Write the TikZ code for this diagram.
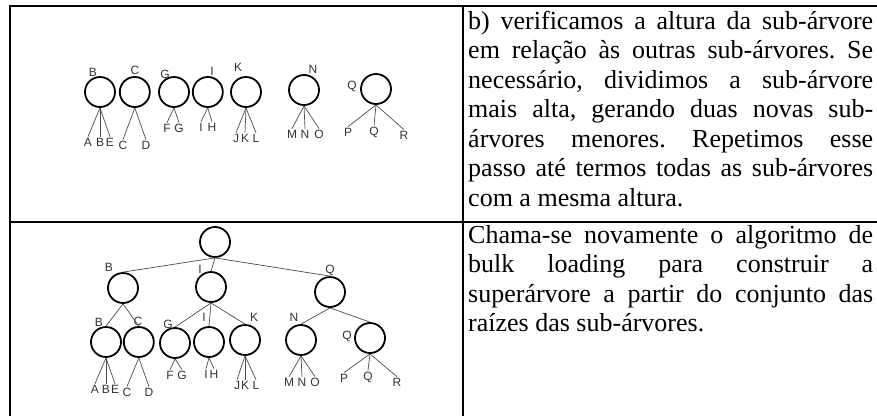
\documentclass[tikz,border=0pt]{standalone}
\usepackage{fontspec}
\setmainfont{Liberation Serif}
\setsansfont{Liberation Sans}
\usetikzlibrary{positioning}
\frenchspacing

\begin{document}
\begin{tikzpicture}[
            x=1pt, y=-1pt,
            bnode/.style={circle, draw=black, line width=1.8pt, minimum size=30pt, inner sep=0pt},
            lbl/.style={font=\sffamily\fontsize{12}{14}\selectfont, text=black!80, inner sep=1pt},
            edge/.style={draw=black!70, line width=0.7pt},
            grid/.style={draw=black, line width=2.4pt},
            txt/.style={font=\fontsize{26}{29.5}\selectfont, inner sep=0pt, anchor=base west},
        ]
            \useasboundingbox (0,0) rectangle (877,416);

            % table
            \coordinate (tl) at (10,6);
            \coordinate (tr) at (877,6);
            \coordinate (ml) at (10,222);
            \coordinate (mr) at (877,222);
            \coordinate (bl) at (10,416);
            \coordinate (vt) at (463,6);
            \coordinate (vb) at (463,416);
            \draw[grid] (tr) -- (tl) -- (bl);
            \draw[grid] (ml) -- (mr);
            \draw[grid] (vt) -- (vb);

            % sub-trees, top row
            \node [bnode] (sB) at (100,92) {};
            \node [bnode] (sC) [right= 3pt of sB] {};
            \node [bnode] (sG) at (174,92) {};
            \node [bnode] (sI) [right= 2pt of sG] {};
            \node [bnode] (sK) at (246,92) {};
            \node [bnode] (sN) at (304,90) {};
            \node [bnode] (sQ) at (376,89) {};

            \node [lbl] at (93,72)  {B};
            \node [lbl] at (135,70) {C};
            \node [lbl] at (165,74) {G};
            \node [lbl] at (212,71) {I};
            \node [lbl] at (238,67) {K};
            \node [lbl] at (313,69) {N};
            \node [lbl] at (352,86) {Q};

            \node [lbl] (sBa) at (88,142)  {A};
            \node [lbl] (sBb) at (100,142) {B};
            \node [lbl] (sBe) at (110,142) {E};
            \node [lbl] (sCc) at (123,145) {C};
            \node [lbl] (sCd) at (146,145) {D};
            \node [lbl] (sGf) at (167,128) {F};
            \node [lbl] (sGg) at (179,128) {G};
            \node [lbl] (sIi) at (201,127) {I};
            \node [lbl] (sIh) at (212,127) {H};
            \node [lbl] (sKj) at (236,138) {J};
            \node [lbl] (sKk) at (245,138) {K};
            \node [lbl] (sKl) at (256,138) {L};
            \node [lbl] (sNm) at (292,134) {M};
            \node [lbl] (sNn) at (305,134) {N};
            \node [lbl] (sNo) at (319,134) {O};
            \node [lbl] (sQp) at (348,132) {P};
            \node [lbl] (sQq) at (374,132) {Q};
            \node [lbl] (sQr) at (404,135) {R};

            \draw[edge] (sB.south) -- (sBa.north);
            \draw[edge] (sB.south) -- (sBb.north);
            \draw[edge] (sB.south) -- (sBe.north);
            \draw[edge] (sC.south) -- (sCc.north);
            \draw[edge] (sC.south) -- (sCd.north);
            \draw[edge] (sG.south) -- (sGf.north);
            \draw[edge] (sG.south) -- (sGg.north);
            \draw[edge] (sI.south) -- (sIi.north);
            \draw[edge] (sI.south) -- (sIh.north);
            \draw[edge] (sK.south) -- (sKj.north);
            \draw[edge] (sK.south) -- (sKk.north);
            \draw[edge] (sK.south) -- (sKl.north);
            \draw[edge] (sN.south) -- (sNm.north);
            \draw[edge] (sN.south) -- (sNn.north);
            \draw[edge] (sN.south) -- (sNo.north);
            \draw[edge] (sQ.south) -- (sQp.north);
            \draw[edge] (sQ.south) -- (sQq.north);
            \draw[edge] (sQ.south) -- (sQr.north);

            % super-tree, bottom row
            \node [bnode] (root) at (215,242) {};
            \node [bnode] (tB) at (123,288) {};
            \node [bnode] (tI) at (211,287) {};
            \node [bnode] (tQ) at (330,292) {};
            \node [lbl] at (109,267) {B};
            \node [lbl] at (200,269) {I};
            \node [lbl] at (330,270) {Q};
            \draw[edge] (root.south) -- (tB.north);
            \draw[edge] (root.south) -- (tI.north);
            \draw[edge] (root.south) -- (tQ.north);

            \node [bnode] (uB) at (106,342) {};
            \node [bnode] (uC) [right= 1pt of uB] {};
            \node [bnode] (uG) at (175,343) {};
            \node [bnode] (uI) at (209,342) {};
            \node [bnode] (uK) at (245,340) {};
            \node [bnode] (uN) at (301,340) {};
            \node [bnode] (uQ) at (370,338) {};
            \node [lbl] at (99,322)  {B};
            \node [lbl] at (138,321) {C};
            \node [lbl] at (168,324) {G};
            \node [lbl] at (204,317) {I};
            \node [lbl] at (254,317) {K};
            \node [lbl] at (294,317) {N};
            \node [lbl] at (347,336) {Q};
            \draw[edge] (tB.south) -- (uB.north);
            \draw[edge] (tB.south) -- (uC.north);
            \draw[edge] (tI.south) -- (uG.north);
            \draw[edge] (tI.south) -- (uI.north);
            \draw[edge] (tI.south) -- (uK.north);
            \draw[edge] (tQ.south) -- (uN.north);
            \draw[edge] (tQ.south) -- (uQ.north);

            \node [lbl] (uBa) at (95,389)  {A};
            \node [lbl] (uBb) at (106,389) {B};
            \node [lbl] (uBe) at (115,389) {E};
            \node [lbl] (uCc) at (127,392) {C};
            \node [lbl] (uCd) at (149,392) {D};
            \node [lbl] (uGf) at (170,375) {F};
            \node [lbl] (uGg) at (182,375) {G};
            \node [lbl] (uIi) at (206,374) {I};
            \node [lbl] (uIh) at (214,374) {H};
            \node [lbl] (uKj) at (237,385) {J};
            \node [lbl] (uKk) at (245,385) {K};
            \node [lbl] (uKl) at (256,385) {L};
            \node [lbl] (uNm) at (289,382) {M};
            \node [lbl] (uNn) at (302,382) {N};
            \node [lbl] (uNo) at (315,382) {O};
            \node [lbl] (uQp) at (344,378) {P};
            \node [lbl] (uQq) at (368,377) {Q};
            \node [lbl] (uQr) at (397,382) {R};

            \draw[edge] (uB.south) -- (uBa.north);
            \draw[edge] (uB.south) -- (uBb.north);
            \draw[edge] (uB.south) -- (uBe.north);
            \draw[edge] (uC.south) -- (uCc.north);
            \draw[edge] (uC.south) -- (uCd.north);
            \draw[edge] (uG.south) -- (uGf.north);
            \draw[edge] (uG.south) -- (uGg.north);
            \draw[edge] (uI.south) -- (uIi.north);
            \draw[edge] (uI.south) -- (uIh.north);
            \draw[edge] (uK.south) -- (uKj.north);
            \draw[edge] (uK.south) -- (uKk.north);
            \draw[edge] (uK.south) -- (uKl.north);
            \draw[edge] (uN.south) -- (uNm.north);
            \draw[edge] (uN.south) -- (uNn.north);
            \draw[edge] (uN.south) -- (uNo.north);
            \draw[edge] (uQ.south) -- (uQp.north);
            \draw[edge] (uQ.south) -- (uQq.north);
            \draw[edge] (uQ.south) -- (uQr.north);

            % texts
            \node [txt] (step-b) at (468,29) {\parbox[t]{405pt}{b) verificamos a altura da sub-árvore\linebreak
                em relação às outras sub-árvores. Se\linebreak
                necessário, dividimos a sub-árvore\linebreak
                mais alta, gerando duas novas sub-\linebreak
                árvores menores. Repetimos esse\linebreak
                passo até termos todas as sub-árvores\linebreak
                com a mesma altura.}};
            \node [txt] (step-c) at (468,243) {\parbox[t]{405pt}{Chama-se novamente o algoritmo de\linebreak
                bulk loading para construir a\linebreak
                superárvore a partir do conjunto das\linebreak
                raízes das sub-árvores.}};

        \end{tikzpicture}
\end{document}
